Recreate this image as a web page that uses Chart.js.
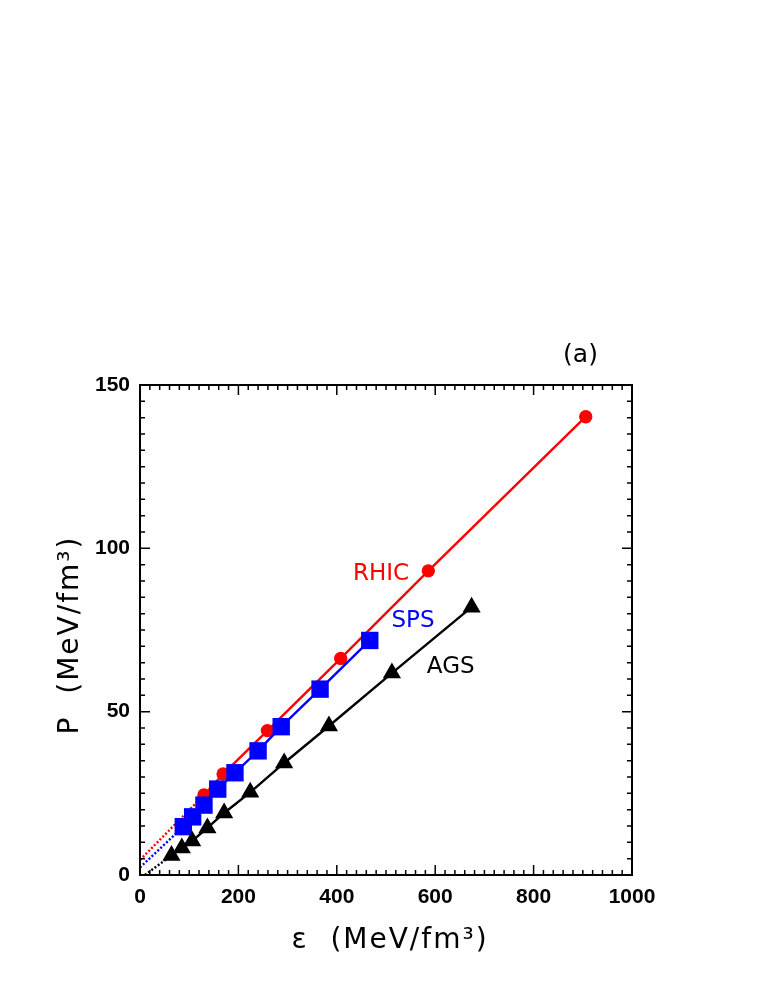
<!DOCTYPE html>
<html><head><meta charset="utf-8">
<script src="https://cdn.jsdelivr.net/npm/chart.js@4.4.0/dist/chart.umd.min.js"></script>
<style>html,body{margin:0;padding:0;background:#fff;} #wrap{width:758px;height:981px;position:relative;}</style>
</head><body><div id="wrap"><canvas id="c"></canvas></div>
<script>
// ---- data (energy density ε in MeV/fm^3, pressure P in MeV/fm^3) ----
const rhicE = [130, 169, 259, 408, 586, 906];
const rhicP = [24.5, 30.9, 44.2, 66.3, 93.1, 140.3];
const spsE = [88, 107, 130, 158, 193, 240, 287, 366, 467];
const spsP = [14.8, 17.8, 21.4, 26.3, 31.3, 38.0, 45.4, 56.9, 71.8];
const agsE = [64, 85, 106, 137, 171, 224, 293, 384, 512, 674];
const agsP = [6.0, 8.3, 10.4, 14.4, 19.0, 25.3, 34.3, 45.6, 61.8, 82.0];
// dotted extrapolations toward low ε
const rhicExtE = [0, 130], rhicExtP = [4.6, 24.5];
const spsExtE = [0, 88], spsExtP = [2.3, 14.8];
const agsExtE = [10, 64], agsExtP = [0, 6.0];
// axis ticks
const xTickVals = [0, 200, 400, 600, 800, 1000];
const yTickVals = [0, 50, 100, 150];
const seriesNames = ['RHIC', 'SPS', 'AGS'];
const panelLabel = '(a)';
const xTitle = 'ε  (MeV/fm³)';
const yTitle = 'P  (MeV/fm³)';

const pts = (xs, ys) => xs.map((x, i) => ({x: x, y: ys[i]}));
const RED = '#ff0000', BLUE = '#0000ff', BLACK = '#000000';

const overlay = {
  id: 'overlay',
  afterDraw(chart) {
    const ctx = chart.ctx, xs = chart.scales.x, ys = chart.scales.y;
    const a = chart.chartArea;
    ctx.save();
    // inward ticks on all four sides
    ctx.strokeStyle = '#000'; ctx.lineWidth = 1.5;
    ctx.beginPath();
    for (let v = 0; v <= 1000; v += 20) {
      const px = xs.getPixelForValue(v);
      const L = (v % 200 === 0) ? 10 : 5;
      ctx.moveTo(px, a.bottom); ctx.lineTo(px, a.bottom - L);
      ctx.moveTo(px, a.top); ctx.lineTo(px, a.top + L);
    }
    for (let v = 0; v <= 150; v += 5) {
      const py = ys.getPixelForValue(v);
      const L = (v % 50 === 0) ? 10 : 5;
      ctx.moveTo(a.left, py); ctx.lineTo(a.left + L, py);
      ctx.moveTo(a.right, py); ctx.lineTo(a.right - L, py);
    }
    ctx.stroke();
    // frame
    ctx.lineWidth = 2;
    ctx.strokeRect(a.left, a.top, a.right - a.left, a.bottom - a.top);

    // annotations
    ctx.textBaseline = 'alphabetic'; ctx.textAlign = 'left';
    const ann = [
      [seriesNames[0], 433, 90.3, RED, 23],
      [seriesNames[1], 511, 75.8, BLUE, 23],
      [seriesNames[2], 583, 61.7, BLACK, 23],
      [panelLabel, 860, 156.9, BLACK, 25]
    ];
    ann.forEach(([t, e, p, c, fs]) => {
      ctx.font = fs + 'px "DejaVu Sans"';
      ctx.fillStyle = c;
      ctx.fillText(t, xs.getPixelForValue(e), ys.getPixelForValue(p));
    });

    // axis titles
    ctx.fillStyle = '#000';
    ctx.font = '28px "DejaVu Sans"';
    try { ctx.letterSpacing = '2px'; } catch (e) {}
    ctx.textAlign = 'center';
    ctx.fillText(xTitle, (a.left + a.right) / 2 + 4, 948);
    ctx.save();
    ctx.translate(78, (a.top + a.bottom) / 2 + 5);
    ctx.rotate(-Math.PI / 2);
    ctx.fillText(yTitle, 0, 0);
    ctx.restore();
    ctx.restore();
  }
};

const tickFont = {family: '"Liberation Sans", Arial, sans-serif', size: 21, weight: 'bold'};

new Chart(document.getElementById('c'), {
  type: 'scatter',
  data: {
    datasets: [
      {label: 'AGS', data: pts(agsE, agsP), showLine: true, borderColor: BLACK, backgroundColor: BLACK,
       borderWidth: 2.4, pointStyle: 'triangle', pointRadius: 10.5, pointBorderWidth: 0, order: 1},
      {label: 'SPS', data: pts(spsE, spsP), showLine: true, borderColor: BLUE, backgroundColor: BLUE,
       borderWidth: 2.4, pointStyle: 'rect', pointRadius: 12.3, pointBorderWidth: 0, order: 2},
      {label: 'RHIC', data: pts(rhicE, rhicP), showLine: true, borderColor: RED, backgroundColor: RED,
       borderWidth: 2.4, pointStyle: 'circle', pointRadius: 6.7, pointBorderWidth: 0, order: 3},
      {label: 'RHIC ext', data: pts(rhicExtE, rhicExtP), showLine: true, borderColor: RED, borderWidth: 2.4,
       borderDash: [2, 2], pointRadius: 0, order: 4},
      {label: 'SPS ext', data: pts(spsExtE, spsExtP), showLine: true, borderColor: BLUE, borderWidth: 2.4,
       borderDash: [2, 2], pointRadius: 0, order: 4},
      {label: 'AGS ext', data: pts(agsExtE, agsExtP), showLine: true, borderColor: BLACK, borderWidth: 2.4,
       borderDash: [2, 2], pointRadius: 0, order: 4}
    ]
  },
  options: {
    responsive: true, maintainAspectRatio: false, animation: false,
    layout: {padding: {top: 385, right: 126, left: 0, bottom: 0}},
    plugins: {legend: {display: false}, tooltip: {enabled: false}},
    scales: {
      x: {
        type: 'linear', min: 0, max: 1000,
        afterBuildTicks: s => { s.ticks = xTickVals.map(v => ({value: v})); },
        afterFit: s => { s.height = 106; },
        grid: {display: false, drawTicks: false}, border: {display: false},
        ticks: {color: '#000', padding: 10, maxRotation: 0, font: tickFont, callback: v => String(v)}
      },
      y: {
        type: 'linear', min: 0, max: 150,
        afterBuildTicks: s => { s.ticks = yTickVals.map(v => ({value: v})); },
        afterFit: s => { s.width = 140; },
        grid: {display: false, drawTicks: false}, border: {display: false},
        ticks: {color: '#000', padding: 10, font: tickFont, callback: v => String(v)}
      }
    }
  },
  plugins: [overlay]
});
</script>
</body></html>
